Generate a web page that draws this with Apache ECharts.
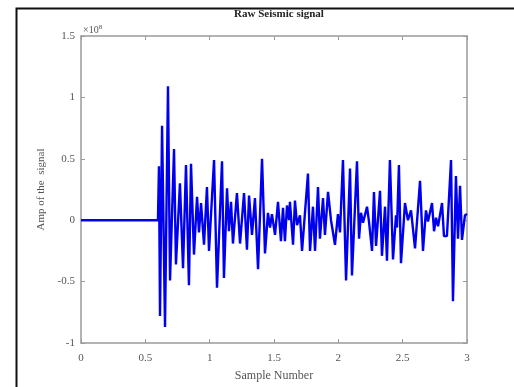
<!DOCTYPE html>
<html>
<head>
<meta charset="utf-8">
<script src="https://cdn.jsdelivr.net/npm/echarts@6/dist/echarts.min.js"></script>
<style>html,body{margin:0;padding:0;background:#fff;}#c{width:514px;height:387px;}</style>
</head>
<body>
<div id="c"></div>
<script>
// Sample number (x) and amplitude in units of 1e8 (y)
var sampleX = [0, 0.598, 0.606, 0.614, 0.630, 0.653, 0.676, 0.692, 0.723, 0.738, 0.769, 0.793, 0.816, 0.839, 0.855, 0.878, 0.902, 0.917, 0.933, 0.956, 0.979, 0.995,
  1.034, 1.057, 1.096, 1.111, 1.135, 1.150, 1.166, 1.181, 1.212, 1.236, 1.267, 1.290, 1.306, 1.329, 1.352, 1.376, 1.407, 1.430, 1.453, 1.469, 1.484, 1.508, 1.531, 1.554,
  1.570, 1.585, 1.601, 1.617, 1.624, 1.648, 1.663, 1.679, 1.702, 1.718, 1.764, 1.780, 1.803, 1.819, 1.842, 1.857, 1.881, 1.896, 1.920, 1.943, 1.974, 1.997, 2.013,
  2.036, 2.060, 2.091, 2.106, 2.145, 2.161, 2.176, 2.192, 2.223, 2.238, 2.262, 2.277, 2.293, 2.324, 2.339, 2.363, 2.378, 2.401, 2.425, 2.448, 2.456, 2.471, 2.487,
  2.518, 2.541, 2.565, 2.596, 2.635, 2.658, 2.681, 2.697, 2.728, 2.744, 2.759, 2.775, 2.806, 2.821, 2.844, 2.876, 2.891, 2.914, 2.930, 2.946, 2.961, 2.984, 3.0];
var amplitude = [0, 0, 0.44, -0.78, 0.77, -0.87, 1.09, -0.49, 0.58, -0.36, 0.30, -0.39, 0.45, -0.53, 0.46, -0.28, 0.19, -0.10, 0.14, -0.20, 0.27, -0.25,
  0.49, -0.55, 0.48, -0.47, 0.26, -0.09, 0.15, -0.19, 0.22, -0.19, 0.22, -0.24, 0.20, -0.12, 0.18, -0.40, 0.50, -0.27, 0.06, -0.06, 0.05, -0.12, 0.15, -0.17,
  0.10, -0.17, 0.12, 0.00, 0.15, -0.20, 0.16, -0.04, 0.04, -0.25, 0.38, -0.25, 0.11, -0.25, 0.27, -0.15, 0.18, -0.12, 0.23, 0.00, -0.20, 0.05, -0.10,
  0.49, -0.49, 0.42, -0.45, 0.48, -0.15, 0.06, -0.02, 0.11, -0.01, -0.25, 0.23, -0.21, 0.24, -0.29, 0.11, -0.33, 0.49, -0.32, 0.04, -0.06, 0.45, -0.35,
  0.14, 0.00, 0.08, -0.23, 0.32, -0.25, 0.08, -0.01, 0.14, -0.09, 0.02, -0.05, 0.14, -0.13, -0.13, 0.49, -0.66, 0.36, -0.15, 0.28, -0.16, 0.04, 0.05];
var xTicks = [0, 0.5, 1, 1.5, 2, 2.5, 3];
var yTicks = [-1, -0.5, 0, 0.5, 1, 1.5];

var seriesData = sampleX.map(function (x, i) { return [x, amplitude[i]]; });
var serif = 'Liberation Serif';
var axisCol = '#9a9a9a';
var labCol = '#555';

var chart = echarts.init(document.getElementById('c'));
function axisCommon() {
  return {
    type: 'value',
    axisLine: { show: true, onZero: false, lineStyle: { color: axisCol, width: 1.5 } },
    axisTick: { show: true, inside: true, length: 4, lineStyle: { color: axisCol } },
    splitLine: { show: false }
  };
}
chart.setOption({
  animation: false,
  backgroundColor: '#fff',
  title: {
    text: 'Raw Seismic signal', left: 274, top: 4, textAlign: 'center', z: 10,
    textStyle: { fontFamily: serif, fontSize: 11, fontWeight: 'bold', color: '#222' }
  },
  grid: { left: 81, top: 36, right: 47, bottom: 42, containLabel: false },
  xAxis: [
    Object.assign(axisCommon(), {
      min: xTicks[0], max: xTicks[xTicks.length - 1], interval: 0.5, position: 'bottom',
      name: 'Sample Number', nameLocation: 'middle', nameGap: 27,
      nameTextStyle: { fontFamily: serif, fontSize: 12, color: labCol },
      axisLabel: { fontFamily: serif, fontSize: 11, color: labCol, margin: 10 }
    }),
    Object.assign(axisCommon(), {
      min: xTicks[0], max: xTicks[xTicks.length - 1], interval: 0.5, position: 'top',
      axisLabel: { show: false }
    })
  ],
  yAxis: [
    Object.assign(axisCommon(), {
      min: yTicks[0], max: yTicks[yTicks.length - 1], interval: 0.5, position: 'left',
      name: 'Amp of the  signal', nameLocation: 'middle', nameGap: 30,
      nameTextStyle: { fontFamily: serif, fontSize: 11, color: labCol },
      axisLabel: { fontFamily: serif, fontSize: 11, color: labCol, margin: 6 }
    }),
    Object.assign(axisCommon(), {
      min: yTicks[0], max: yTicks[yTicks.length - 1], interval: 0.5, position: 'right',
      axisLabel: { show: false }
    })
  ],
  graphic: [
    { type: 'rect', left: 14, top: 6, z: -1, shape: { width: 530, height: 420 }, style: { fill: 'none', stroke: '#111', lineWidth: 2 }, silent: true },
    { type: 'text', left: 83, top: 24, style: { text: '×10{s|8}', rich: { s: { fontSize: 7, verticalAlign: 'top', fontFamily: serif, fill: labCol, padding: [0, 0, 5, 0] } }, fontFamily: serif, fontSize: 10, fill: labCol } }
  ],
  series: [{
    type: 'line', xAxisIndex: 0, yAxisIndex: 0,
    data: seriesData, showSymbol: false, symbol: 'none',
    lineStyle: { color: '#0000ee', width: 2.4 }
  }]
});
</script>
</body>
</html>
